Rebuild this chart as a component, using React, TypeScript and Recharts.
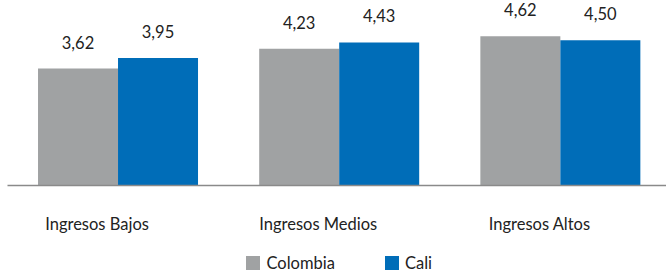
import { Bar, BarChart, LabelList, Legend, XAxis, YAxis } from "recharts";

const categories = ["Ingresos Bajos", "Ingresos Medios", "Ingresos Altos"];
const colombia = [3.62, 4.23, 4.62];
const cali = [3.95, 4.43, 4.5];

const GRAY = "#a0a2a3";
const BLUE = "#006db8";
const FONT = "Lato, 'Open Sans', sans-serif";

const data = categories.map((name, i) => ({
  name,
  Colombia: colombia[i],
  Cali: cali[i]
}));

const fmt = (v: any) => Number(v).toFixed(2).replace(".", ",");

function Tick(props: any) {
  const { x, y, payload } = props;
  return (
    <text
      x={x - 21}
      y={y}
      dy={36}
      textAnchor="middle"
      fontSize={16.5}
      fontFamily={FONT}
      fill="#222"
    >
      {payload.value}
    </text>
  );
}

function LegendBox() {
  const items = [
    { label: "Colombia", color: GRAY },
    { label: "Cali", color: BLUE }
  ];
  return (
    <div
      style={{
        height: 30,
        display: "flex",
        justifyContent: "center",
        alignItems: "center",
        gap: 50,
        paddingTop: 10,
        boxSizing: "border-box",
        fontFamily: FONT,
        fontSize: 16.5,
        color: "#222"
      }}
    >
      {items.map((it) => (
        <div key={it.label} style={{ display: "flex", alignItems: "center" }}>
          <span
            style={{
              width: 14,
              height: 14,
              background: it.color,
              marginRight: 6,
              display: "inline-block"
            }}
          />
          <span>{it.label}</span>
        </div>
      ))}
    </div>
  );
}

export default function App() {
  return (
    <div
      style={{
        position: "absolute",
        left: 0,
        top: 0,
        width: 666,
        height: 273,
        overflow: "hidden",
        background: "#fff"
      }}
    >
      <BarChart
        width={671}
        height={273}
        data={data}
        margin={{ top: 24, right: 0, left: 7.5, bottom: 0 }}
        barCategoryGap="13.8%"
        barGap={0}
      >
        <XAxis
          dataKey="name"
          tickLine={false}
          axisLine={{ stroke: "#8a8a8a", strokeWidth: 1.5 }}
          tick={<Tick />}
          height={57.5}
          interval={0}
        />
        <YAxis hide domain={[0, 5]} />
        <Legend verticalAlign="bottom" height={30} content={<LegendBox />} />
        <Bar dataKey="Colombia" fill={GRAY} isAnimationActive={false}>
          <LabelList
            dataKey="Colombia"
            position="top"
            offset={20}
            formatter={fmt}
            fontSize={16.5}
            fontFamily={FONT}
            fill="#222"
          />
        </Bar>
        <Bar dataKey="Cali" fill={BLUE} isAnimationActive={false}>
          <LabelList
            dataKey="Cali"
            position="top"
            offset={20}
            formatter={fmt}
            fontSize={16.5}
            fontFamily={FONT}
            fill="#222"
          />
        </Bar>
      </BarChart>
    </div>
  );
}
